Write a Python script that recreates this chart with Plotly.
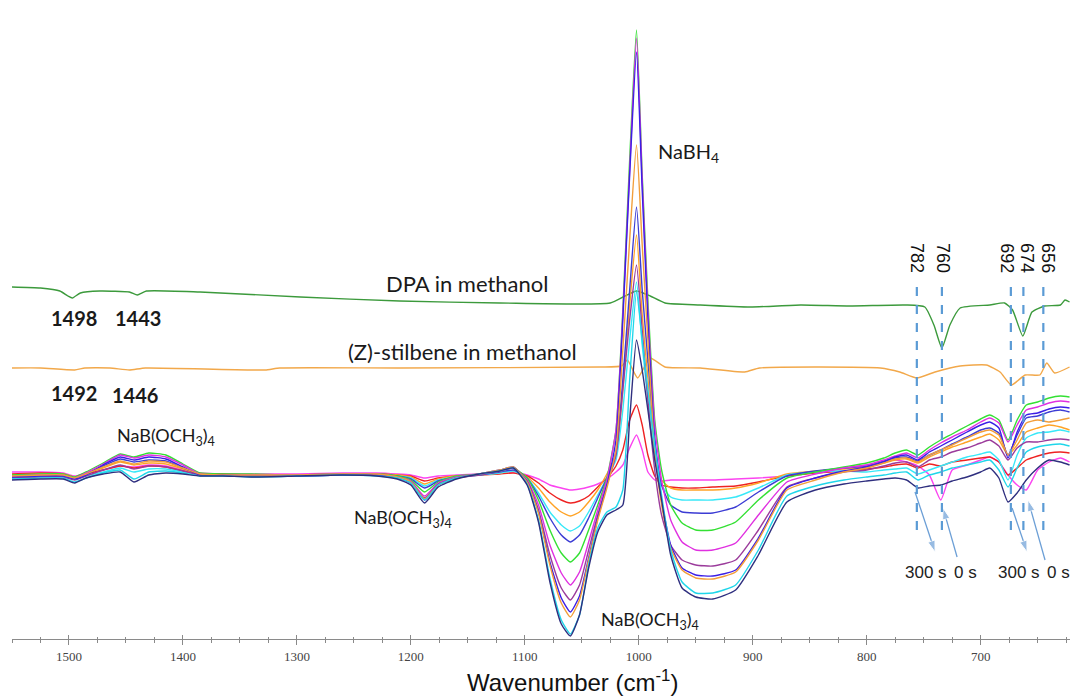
import plotly.graph_objects as go

# Shared wavenumber grid (cm-1) for the time-resolved difference spectra
wavenumber = [1550, 1525, 1505, 1495, 1485, 1470,
              1455, 1443, 1430, 1415, 1400,
              1385, 1365, 1340, 1300, 1260, 1230, 1212, 1200,
              1188,
              1176, 1160, 1140, 1122, 1110,
              1098, 1088, 1078, 1068, 1060, 1052, 1044, 1036, 1028,
              1020, 1014, 1008, 1002, 997, 992, 986, 980,
              972, 962, 950, 935, 915, 895, 870,
              845, 820, 800, 785, 775, 765,
              755, 745, 735, 725, 712, 700, 692,
              684, 676, 668, 660, 650, 640, 630, 622]

# Intensities (a.u.) of each spectrum on the grid above
s_pink = [-2, -2, -3, -6, -3, 0,
          4, 3, 5, 4, 0,
          -3, -4, -4, -4, -3, -3, -4, -5,
          -8,
          -6, -5, -4, -3, -2,
          -5, -9, -15, -18, -20, -19, -17, -14, -9,
          -2, 5, 22, 35, 20, -2, -10, -11,
          -10, -10, -10, -10, -9, -8, -6,
          -2, 2, 5, 8, 10, 8,
          4, -5, -30, 0, 5, 10, 13,
          8, -5, -15, -20, 0, 8, 12, 8]
s_red = [-4, -3, -4, -7, -4, 0,
         4, 2, 4, 3, -1,
         -4, -4, -5, -5, -4, -4, -5, -6,
         -11,
         -8, -6, -5, -4, -3,
         -6, -13, -23, -30, -33, -31, -26, -17, -8,
         4, 20, 50, 65, 45, 15, -6, -15,
         -17, -18, -18, -17, -16, -12, -6,
         -3, -1, 1, 3, 5, 6,
         2, 6, 4, 8, 10, 12, 13,
         8, -5, 2, 10, 14, 17, 18, 17]
s_orange_a = [-5, -4, -4, -7, -3, 2,
              8, 5, 7, 6, 1,
              -4, -5, -5, -5, -4, -4, -5, -7,
              -14,
              -9, -6, -5, -3, -1,
              -7, -18, -32, -42, -46, -42, -32, -20, -4,
              14, 80, 165, 235, 155, 92, 15, -10,
              -18, -20, -20, -20, -18, -13, -4,
              -1, 1, 3, 7, 10, 11,
              7, 13, 18, 23, 28, 33, 36,
              30, 15, 25, 38, 42, 45, 43, 40]
s_cyan_a = [-7, -6, -6, -9, -6, -2,
            2, -2, 1, 1, -2,
            -5, -5, -6, -6, -5, -5, -6, -8,
            -16,
            -10, -7, -5, -3, -1,
            -8, -23, -42, -55, -61, -56, -42, -25, -8,
            10, 60, 130, 188, 125, 70, 15, -15,
            -27, -30, -30, -30, -27, -18, -5,
            -2, -1, -2, 0, 1, 2,
            -4, 0, 4, 8, 13, 16, 18,
            10, -10, 15, 32, 37, 38, 40, 38]
s_blue_a = [-6, -5, -5, -8, -4, 4,
            11, 8, 10, 9, 2,
            -4, -5, -5, -5, -4, -4, -6, -9,
            -18,
            -11, -7, -5, -2, 0,
            -8, -26, -48, -65, -72, -65, -48, -28, -8,
            18, 90, 180, 263, 180, 110, 30, -15,
            -35, -42, -43, -43, -37, -22, -6,
            -1, 2, 4, 9, 12, 13,
            9, 15, 20, 26, 33, 40, 42,
            37, 15, 35, 52, 54, 58, 60, 58]
s_green = [-5, -4, -4, -7, -2, 7,
           16, 13, 17, 15, 6,
           -3, -4, -4, -5, -4, -4, -6, -10,
           -22,
           -12, -6, -4, -1, 2,
           -8, -30, -60, -83, -92, -83, -60, -35, -8,
           40, 160, 310, 440, 295, 170, 50, 0,
           -35, -53, -60, -60, -52, -30, -8,
           -2, 3, 7, 12, 17, 20,
           15, 23, 30, 36, 44, 51, 55,
           50, 30, 50, 65, 68, 72, 74, 73]
s_magenta = [-6, -5, -5, -8, -3, 6,
             15, 12, 15, 13, 5,
             -4, -5, -5, -5, -4, -4, -7, -11,
             -26,
             -13, -7, -4, -1, 2,
             -10, -35, -75, -103, -115, -102, -72, -40, -10,
             40, 155, 300, 432, 290, 160, 45, -10,
             -50, -72, -80, -80, -73, -45, -12,
             -4, 2, 5, 10, 14, 17,
             12, 20, 27, 33, 40, 48, 52,
             47, 28, 45, 60, 63, 67, 69, 68]
s_purple = [-8, -7, -7, -10, -6, 0,
            5, 1, 4, 3, -1,
            -5, -5, -6, -6, -5, -5, -7, -12,
            -28,
            -14, -8, -5, -1, 2,
            -11, -40, -85, -118, -130, -115, -80, -45, -15,
            15, 80, 150, 205, 140, 70, 0, -45,
            -75, -90, -95, -96, -90, -60, -17,
            -8, -2, 0, 4, 7, 8,
            3, 10, 13, 18, 22, 27, 30,
            24, 10, 22, 28, 28, 30, 31, 30]
s_blue_b = [-7, -6, -6, -9, -5, 5,
            13, 10, 13, 11, 3,
            -5, -5, -6, -6, -5, -5, -8, -13,
            -30,
            -15, -8, -4, 0, 3,
            -12, -42, -92, -128, -142, -126, -88, -48, -15,
            30, 150, 295, 418, 280, 150, 30, -30,
            -75, -98, -105, -106, -100, -68, -18,
            -8, -1, 3, 8, 13, 15,
            10, 18, 24, 30, 38, 45, 48,
            42, 12, 38, 55, 57, 61, 63, 62]
s_orange_b = [-6, -5, -5, -8, -4, 3,
              9, 6, 9, 8, 2,
              -4, -5, -5, -5, -4, -4, -7, -12,
              -29,
              -15, -8, -4, 0, 3,
              -12, -43, -95, -133, -147, -130, -90, -50, -18,
              20, 120, 230, 325, 225, 130, 20, -35,
              -78, -100, -108, -109, -102, -70, -20,
              -10, -2, 2, 7, 11, 12,
              8, 15, 20, 25, 32, 38, 40,
              35, 15, 30, 47, 50, 48, 50, 52]
s_cyan_b = [-9, -8, -8, -12, -8, -3,
            0, -9, -2, -1, -3,
            -6, -6, -7, -6, -5, -6, -8, -13,
            -30,
            -15, -8, -4, -1, 2,
            -14, -50, -108, -150, -164, -145, -95, -58, -42,
            -37, -20, 90, 178, 130, 80, 25, -25,
            -80, -112, -123, -123, -115, -80, -26,
            -16, -10, -7, -5, -3, -2,
            -10, -5, -2, 2, 5, 8, 10,
            0, -17, 2, 18, 23, 25, 26, 24]
s_navy = [-10, -9, -9, -13, -8, -4,
          -2, -12, -5, -3, -4,
          -6, -6, -7, -6, -5, -6, -9, -15,
          -33,
          -17, -9, -4, -1, 2,
          -15, -52, -112, -154, -166, -145, -98, -62, -45,
          -40, -35, 50, 130, 100, 60, 10, -30,
          -85, -118, -127, -129, -120, -85, -32,
          -20, -14, -11, -9, -8, -10,
          -18, -16, -15, -11, -7, -2, 2,
          -8, -32, -23, -10, 2, 10, 8, 5]

# Reference spectra (offset vertically)
dpa_wn = [1550, 1525, 1508, 1501, 1497, 1490, 1473, 1447, 1440, 1432,
          1385, 1297, 1210, 1122, 1025, 1012, 1002, 990, 977, 946,
          902, 858, 815, 766, 749, 741, 734, 727, 718, 692,
          679, 672, 663, 655, 644, 630, 626, 622]
dpa_int = [183, 182, 179, 174, 172, 177, 179, 178, 175, 179,
           178, 173, 169, 167, 167, 174, 179, 174, 167, 165,
           163, 165, 164, 165, 163, 145, 122, 145, 162, 165,
           167, 160, 134, 158, 164, 165, 170, 168]
stil_wn = [1550, 1525, 1495, 1486, 1464, 1447, 1433, 1328, 1315, 1210,
           1034, 1015, 1010, 1001, 990, 977, 946, 907, 894, 788,
           771, 756, 740, 718, 695, 683, 673, 661, 648, 642,
           635, 622]
stil_int = [102, 102, 100, 102, 102, 100, 102, 100, 102, 102,
            103, 104, 110, 92, 112, 103, 102, 98, 102, 102,
            98, 92, 98, 104, 105, 98, 85, 95, 95, 107,
            97, 103]

# Marked bands: dashed-line positions, label positions and label texts
band_pos = [756, 734, 673.5, 662.5, 645]
band_label_pos = [755.8, 733, 677, 659.3, 641]
band_text = ["782", "760", "692", "674", "656"]

tick_vals = [1500, 1400, 1300, 1200, 1100, 1000, 900, 800, 700]

series = [
    (s_pink, "#fb44f0"), (s_red, "#ee2222"), (s_orange_a, "#ffa326"),
    (s_cyan_a, "#38e8f8"), (s_blue_a, "#3c3cd4"), (s_green, "#33e033"),
    (s_magenta, "#e030e0"), (s_purple, "#9b3b9b"), (s_blue_b, "#3b1ee6"),
    (s_orange_b, "#f29e3a"), (s_cyan_b, "#1fd6ea"), (s_navy, "#2f2f7f"),
]

smooth = dict(width=1.4, shape="spline", smoothing=0.5)

fig = go.Figure()

fig.add_trace(go.Scatter(x=dpa_wn, y=dpa_int, mode="lines",
                         line=dict(color="#3c9a3c", **smooth), showlegend=False))
fig.add_trace(go.Scatter(x=stil_wn, y=stil_int, mode="lines",
                         line=dict(color="#f2a84a", **smooth), showlegend=False))

for vals, col in series:
    fig.add_trace(go.Scatter(x=wavenumber, y=vals, mode="lines",
                             line=dict(color=col, **smooth), showlegend=False))

# Dashed band markers with rotated labels
for pos in band_pos:
    fig.add_shape(type="line", x0=pos, x1=pos, y0=-60, y1=192, xref="x", yref="y",
                  line=dict(color="#5b9bd5", width=2.2, dash="dash"))
for pos, txt in zip(band_label_pos, band_text):
    fig.add_annotation(x=pos, y=212, text=txt, showarrow=False, textangle=90,
                       font=dict(family="Liberation Sans", size=18, color="#111"))

label_font = dict(family="Lato", size=18, color="#1a1a1a")
big_font = dict(family="Lato", size=22, color="#1a1a1a")
bold_font = dict(family="Lato", size=20, color="#1a1a1a", weight="bold")

texts = [
    (956, 318, "NaBH<sub>4</sub>", dict(family="Lato", size=20, color="#1a1a1a")),
    (1150, 187, "DPA in methanol", big_font),
    (1155, 119, "(Z)-stilbene in methanol", big_font),
    (1415, 34, "NaB(OCH<sub>3</sub>)<sub>4</sub>", label_font),
    (1207, -48, "NaB(OCH<sub>3</sub>)<sub>4</sub>", label_font),
    (990, -150, "NaB(OCH<sub>3</sub>)<sub>4</sub>", label_font),
    (1495.6, 152, "1498", bold_font),
    (1439.4, 152, "1443", bold_font),
    (1495.6, 77, "1492", bold_font),
    (1442, 75, "1446", bold_font),
]
for x, y, t, f in texts:
    fig.add_annotation(x=x, y=y, text=t, showarrow=False, font=f)

# Time arrows: tail -> head, drawn as a line ending in an arrow marker
arrows = [((757.6, -22), (740, -82)), ((720.7, -87), (733, -38)),
          ((672.4, -38), (659.3, -82)), ((643.5, -90), (658.4, -30))]
for (tx, ty), (hx, hy) in arrows:
    fig.add_trace(go.Scatter(x=[tx, hx], y=[ty, hy], mode="lines+markers",
                             line=dict(color="#6c9fd6", width=1.3),
                             marker=dict(symbol="arrow", size=[0, 12],
                                         angleref="previous", color="#6c9fd6"),
                             showlegend=False, hoverinfo="skip"))
time_font = dict(family="Liberation Sans", size=17, color="#222")
for x, t in [(748, "300 s"), (713, "0 s"), (666.3, "300 s"), (632, "0 s")]:
    fig.add_annotation(x=x, y=-102, text=t, showarrow=False, font=time_font)

# Axis title
fig.add_annotation(x=1058.6, y=-0.066, xref="x", yref="paper", yanchor="middle",
                   text="Wavenumber (cm<sup>-1</sup>)", showarrow=False,
                   font=dict(family="Liberation Sans", size=24, color="#111"))

axis_grey = "#8a8a8a"
fig.update_xaxes(range=[1550, 621.6], showline=True, linecolor=axis_grey, linewidth=1,
                 tickvals=tick_vals, ticks="outside", ticklen=5, tickcolor=axis_grey,
                 minor=dict(dtick=25, ticks="outside", ticklen=3, tickcolor=axis_grey),
                 showgrid=False, zeroline=False,
                 tickfont=dict(family="Liberation Serif", size=13, color="#444"))
# Second copy of the axis to give the ticks their crossing look
fig.update_layout(xaxis2=dict(overlaying="x", matches="x", anchor="y", side="bottom",
                              showline=False, showticklabels=False, showgrid=False,
                              zeroline=False, tickvals=tick_vals, ticks="inside",
                              ticklen=4, tickcolor=axis_grey,
                              minor=dict(dtick=25, ticks="inside", ticklen=2,
                                         tickcolor=axis_grey)))
fig.add_trace(go.Scatter(x=[1550, 621.6], y=[None, None], xaxis="x2", mode="lines",
                         showlegend=False, hoverinfo="skip"))
fig.update_yaxes(visible=False, range=[-169, 470])
fig.update_layout(width=1070, height=698, margin=dict(l=12, r=0, t=0, b=59),
                  plot_bgcolor="white", paper_bgcolor="white", showlegend=False)

fig.write_html("out.html")
